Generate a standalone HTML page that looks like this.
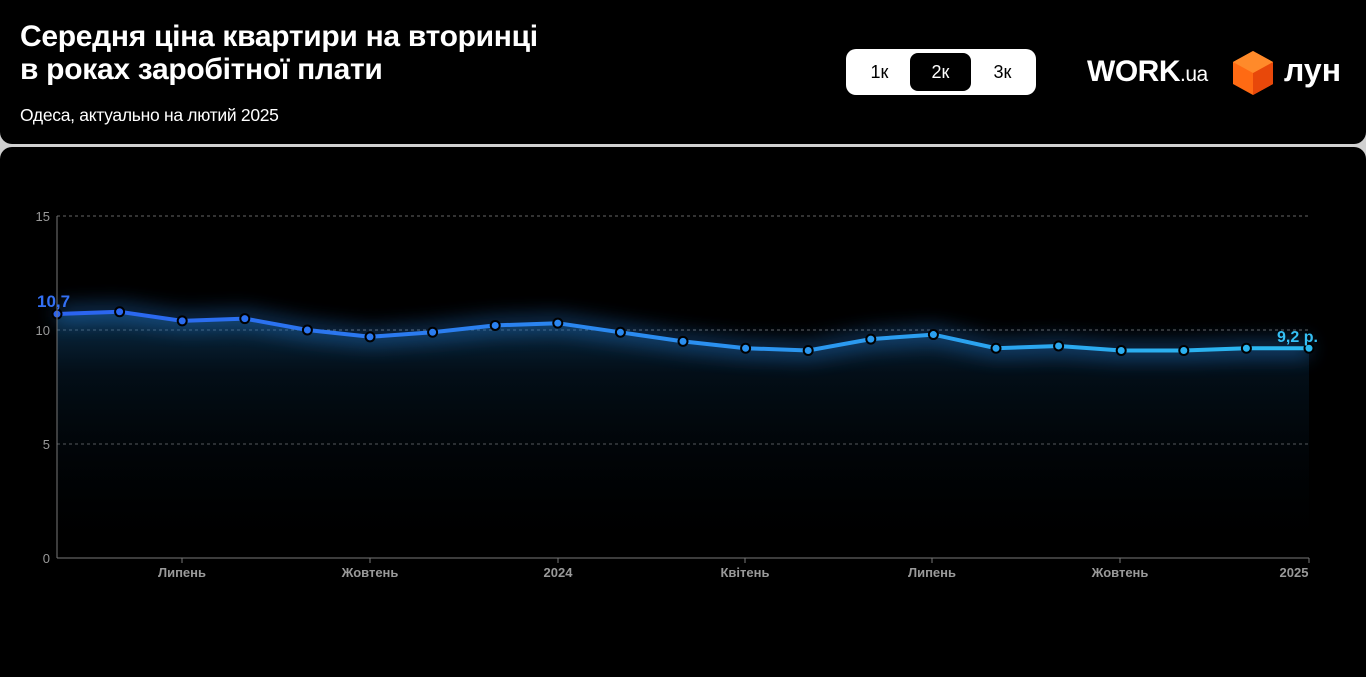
<!DOCTYPE html>
<html><head><meta charset="utf-8"><style>
html,body{margin:0;padding:0;width:1366px;height:677px;background:#d0d0d0;overflow:hidden;font-family:"Liberation Sans",sans-serif}
.h{position:absolute;left:0;top:0;width:1366px;height:144px;background:#000;border-radius:0 0 12px 12px}
.c{position:absolute;left:0;top:147px;width:1366px;height:530px;background:#000;border-radius:12px 12px 0 0}
.t{position:absolute;left:20px;top:20px;color:#fff;font-weight:bold;font-size:30px;line-height:33px;letter-spacing:-0.3px}
.s{position:absolute;left:20px;top:105px;color:#fff;font-size:17.5px;letter-spacing:-0.3px}
.tog{position:absolute;left:846px;top:49px;width:190px;height:46px;background:#fff;border-radius:10px}
.tog span{position:absolute;top:4px;width:61px;height:38px;line-height:38px;text-align:center;font-size:18px;color:#000}
.tog .a{background:#000;color:#fff;border-radius:8px}
.w{position:absolute;left:1087px;top:55px;color:#fff;font-weight:bold;font-size:30px;letter-spacing:-0.5px}
.w small{font-size:21px;font-weight:normal}
.l{position:absolute;left:1284px;top:52px;color:#fff;font-size:32px;font-weight:bold}
</style></head><body>
<div class="h">
<div class="t">Середня ціна квартири на вторинці<br>в роках заробітної плати</div>
<div class="s">Одеса, актуально на лютий 2025</div>
<div class="tog"><span style="left:3px">1к</span><span class="a" style="left:64px">2к</span><span style="left:126px">3к</span></div>
<div class="w">WORK<small>.ua</small></div>
<svg style="position:absolute;left:1232px;top:50px" width="42" height="46"><polygon points="21,1 41,12 41,34 21,45 1,34 1,12" fill="#ff6a13"/><polygon points="21,23 41,12 41,34 21,45" fill="#e8480a"/><polygon points="21,1 41,12 21,23 1,12" fill="#ff8a2a"/></svg>
<div class="l">лун</div>
</div>
<div class="c"></div>
<svg style="position:absolute;left:0;top:0" width="1366" height="677">
<defs>
<linearGradient id="lg" x1="0" x2="1"><stop offset="0" stop-color="#2b63f0"/><stop offset="1" stop-color="#2bbaf0"/></linearGradient>
<linearGradient id="fg" x1="0" y1="0" x2="0" y2="1"><stop offset="0" stop-color="#1a6aa8" stop-opacity="0.45"/><stop offset="0.25" stop-color="#0a3050" stop-opacity="0.3"/><stop offset="1" stop-color="#000" stop-opacity="0"/></linearGradient>
<filter id="bl" x="-10%" y="-200%" width="120%" height="500%"><feGaussianBlur stdDeviation="10"/></filter>
</defs>
<g stroke="#666" stroke-dasharray="3,3" stroke-width="1">
<line x1="57" x2="1309" y1="216" y2="216"/><line x1="57" x2="1309" y1="330" y2="330"/><line x1="57" x2="1309" y1="444" y2="444"/></g>
<g id="pl"></g>
<line x1="57" x2="57" y1="216" y2="558" stroke="#777"/>
<line x1="57" x2="1309" y1="558" y2="558" stroke="#777"/>
<g fill="#999" font-size="13" text-anchor="end"><text x="50" y="221">15</text><text x="50" y="335">10</text><text x="50" y="449">5</text><text x="50" y="563">0</text></g>
<g fill="#999" font-size="13" font-weight="bold" text-anchor="middle">
<text x="182" y="577">Липень</text><text x="370" y="577">Жовтень</text><text x="558" y="577">2024</text><text x="745" y="577">Квітень</text><text x="932" y="577">Липень</text><text x="1120" y="577">Жовтень</text><text x="1294" y="577">2025</text></g>
<g stroke="#777"><line x1="182" x2="182" y1="558" y2="563"/><line x1="370" x2="370" y1="558" y2="563"/><line x1="558" x2="558" y1="558" y2="563"/><line x1="745" x2="745" y1="558" y2="563"/><line x1="932" x2="932" y1="558" y2="563"/><line x1="1120" x2="1120" y1="558" y2="563"/><line x1="1309" x2="1309" y1="558" y2="563"/></g>
<text x="37" y="307" fill="#3370f5" font-size="17" font-weight="bold">10,7</text>
<text x="1277" y="342" fill="#35c0f5" font-size="16" font-weight="bold">9,2 р.</text>
</svg>
<script>
var v=[10.7,10.8,10.4,10.5,10.0,9.7,9.9,10.2,10.3,9.9,9.5,9.2,9.1,9.6,9.8,9.2,9.3,9.1,9.1,9.2,9.2];
var p=v.map(function(y,i){return [57+i*62.6,558-y*22.8]});
var d=p.map(function(q,i){return (i?'L':'M')+q[0].toFixed(1)+','+q[1].toFixed(1)}).join('');
var s='<path d="'+d+'L1309,558L57,558Z" fill="url(#fg)"/>';
s+='<path d="'+d+'" stroke="#2a8af0" stroke-width="14" fill="none" opacity="0.45" filter="url(#bl)"/>';
s+='<path d="'+d+'" stroke="url(#lg)" stroke-width="4" fill="none"/>';
p.forEach(function(q,i){var t=i/20;var g=Math.round(99+t*87);s+='<circle cx="'+q[0]+'" cy="'+q[1]+'" r="4.5" fill="rgb(43,'+g+',240)" stroke="#000" stroke-width="2"/>'});
document.getElementById('pl').innerHTML=s;
</script>
</body></html>
